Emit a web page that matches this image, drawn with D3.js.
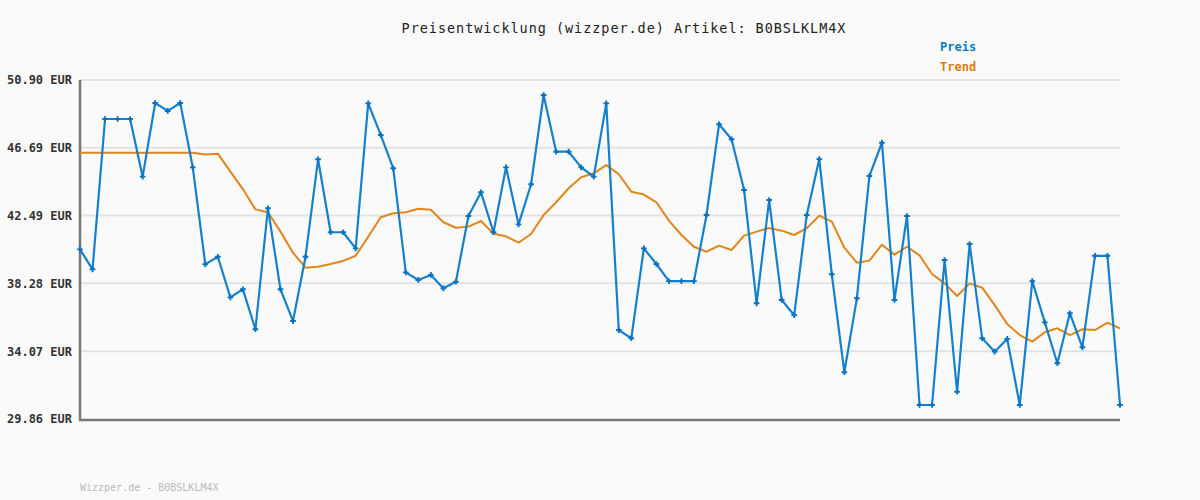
<!DOCTYPE html>
<html><head><meta charset="utf-8">
<script src="https://cdn.jsdelivr.net/npm/d3@7"></script>
<style>
html,body{margin:0;padding:0;background:#fafafa;}
svg{display:block;}
</style></head>
<body><svg id="c" width="1200" height="500"></svg>
<script>
const titleText = "Preisentwicklung (wizzper.de) Artikel: B0BSLKLM4X";
const footerText = "Wizzper.de - B0BSLKLM4X";
const seriesNames = ["Preis", "Trend"];
const yTicks = [29.86, 34.07, 38.28, 42.49, 46.69, 50.90];
const yTickLabels = ["29.86 EUR", "34.07 EUR", "38.28 EUR", "42.49 EUR", "46.69 EUR", "50.90 EUR"];
const preis = [40.39,39.15,48.48,48.48,48.48,44.90,49.47,48.98,49.47,45.48,
  39.46,39.93,37.41,37.91,35.43,42.94,37.91,35.94,39.93,45.98,
  41.45,41.45,40.45,49.45,47.49,45.42,38.96,38.49,38.80,37.97,
  38.38,42.46,43.93,41.45,45.48,41.94,44.43,49.97,46.45,46.45,
  45.48,44.90,49.45,35.38,34.87,40.45,39.48,38.42,38.42,38.42,
  42.52,48.15,47.22,44.07,37.04,43.45,37.25,36.30,42.52,45.99,
  38.84,32.76,37.35,44.94,47.01,37.25,42.46,30.73,30.73,39.73,
  31.55,40.72,34.87,34.04,34.83,30.73,38.42,35.86,33.32,36.42,
  34.31,39.99,39.99,30.73];
const trend = [46.39,46.39,46.39,46.39,46.39,46.39,46.39,46.39,46.39,46.39,
  46.27,46.33,45.21,44.13,42.87,42.69,41.49,40.18,39.25,39.31,
  39.48,39.67,39.99,41.17,42.38,42.63,42.69,42.91,42.85,42.07,
  41.73,41.80,42.15,41.36,41.20,40.80,41.34,42.52,43.31,44.18,
  44.86,45.11,45.62,45.05,43.97,43.79,43.31,42.17,41.28,40.55,
  40.24,40.62,40.35,41.24,41.49,41.71,41.55,41.28,41.70,42.48,
  42.11,40.49,39.56,39.69,40.68,40.06,40.55,40.02,38.86,38.28,
  37.49,38.28,38.01,36.93,35.75,35.07,34.66,35.24,35.49,35.07,
  35.43,35.38,35.84,35.49];

const svg = d3.select("#c");
const mono = "'DejaVu Sans Mono', 'Liberation Mono', monospace";
const x = d3.scaleLinear().domain([0, preis.length - 1]).range([80, 1120]);
const y = d3.scaleLinear().domain([29.86, 50.90]).range([419, 80]);

svg.append("rect").attr("width",1200).attr("height",500).attr("fill","#fafafa");

// grid
svg.append("g").selectAll("line").data(yTicks.slice(1)).join("line")
  .attr("x1",80).attr("x2",1120).attr("y1",d=>y(d)).attr("y2",d=>y(d))
  .attr("stroke","#e3e3e3").attr("stroke-width",2);

// y axis
const yAxis = d3.axisLeft(y).tickValues(yTicks).tickFormat((d,i)=>yTickLabels[i]).tickSize(0).tickPadding(8);
const ga = svg.append("g").attr("transform","translate(80,0)").call(yAxis);
ga.select(".domain").remove();
ga.selectAll("text").attr("font-family",mono).attr("font-size",12).attr("font-weight","bold").attr("fill","#333");

svg.append("line").attr("x1",80).attr("x2",80).attr("y1",80).attr("y2",420).attr("stroke","#777").attr("stroke-width",2.5);
svg.append("line").attr("x1",79).attr("x2",1120).attr("y1",420).attr("y2",420).attr("stroke","#777").attr("stroke-width",2.5);

// trend
const line = d3.line().x((d,i)=>x(i)).y(d=>y(d));
svg.append("path").datum(trend).attr("d",line).attr("fill","none")
  .attr("stroke","#e0861a").attr("stroke-width",2).attr("stroke-linejoin","round");
// preis
svg.append("path").datum(preis).attr("d",line).attr("fill","none")
  .attr("stroke","#1580cc").attr("stroke-width",2.2).attr("stroke-linejoin","round");
svg.append("g").selectAll("path").data(preis).join("path")
  .attr("d", d3.symbol(d3.symbolCross, 18))
  .attr("transform",(d,i)=>`translate(${x(i)},${y(d)})`)
  .attr("fill","#0a72c0");

// title
svg.append("text").attr("x",624).attr("y",33).attr("text-anchor","middle")
  .attr("font-family",mono).attr("font-size",13.5).attr("letter-spacing",0.95).attr("fill","#222").text(titleText);

// legend
const legColors = ["#0a7bc9","#e07b0a"];
svg.append("g").selectAll("text").data(seriesNames).join("text")
  .attr("x",940).attr("y",(d,i)=>51+i*20)
  .attr("font-family",mono).attr("font-size",12).attr("font-weight","bold")
  .attr("fill",(d,i)=>legColors[i]).text(d=>d);

// footer
svg.append("text").attr("x",80).attr("y",491).attr("font-family",mono).attr("font-size",10)
  .attr("fill","#bbb").text(footerText);
</script></body></html>
